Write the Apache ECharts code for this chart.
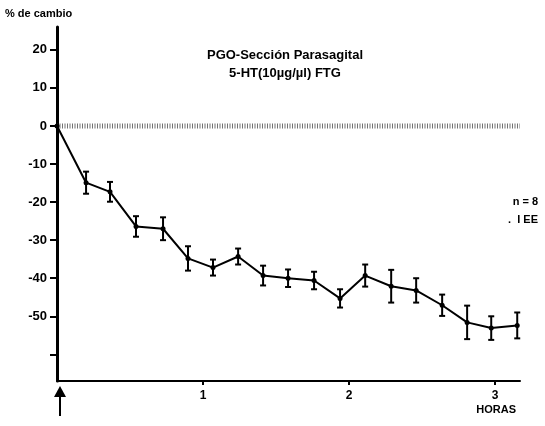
<!DOCTYPE html>
<html>
<head>
<meta charset="utf-8">
<script src="https://cdn.jsdelivr.net/npm/echarts@6/dist/echarts.min.js"></script>
<style>
  html, body { margin: 0; padding: 0; background: #fff; }
  #chart { width: 545px; height: 426px; }
</style>
</head>
<body>
<div id="chart"></div>
<script>
// time (hours) and % change
const hours = [0, 0.199, 0.363, 0.541, 0.726, 0.897, 1.068, 1.240, 1.411, 1.582, 1.760, 1.938, 2.110, 2.288, 2.459, 2.637, 2.808, 2.973, 3.151];
const change = [0, -14.9, -17.3, -26.4, -27.0, -34.8, -37.2, -34.3, -39.3, -40.0, -40.6, -45.3, -39.3, -42.1, -43.2, -47.1, -51.6, -53.1, -52.4];
// standard error (half bar), none at time 0
const sem = [0, 2.9, 2.6, 2.7, 3.0, 3.2, 2.1, 2.1, 2.6, 2.3, 2.3, 2.4, 2.9, 4.3, 3.2, 2.8, 4.4, 3.1, 3.4];
const yTicks = [20, 10, 0, -10, -20, -30, -40, -50, -60];
const yLabels = [20, 10, 0, -10, -20, -30, -40, -50];
const xTicks = [1, 2, 3];
const zeroLine = [[0, 0], [3.17, 0]];

const font = '"Liberation Sans", Arial, sans-serif';
const chart = echarts.init(document.getElementById('chart'));

const points = hours.map((h, i) => [h, change[i]]);
const bars = hours.map((h, i) => [h, change[i] - sem[i], change[i] + sem[i]]).filter((d, i) => sem[i] > 0);

chart.setOption({
  animation: false,
  backgroundColor: '#fff',
  grid: { left: 57, right: 25, top: 27, bottom: 45 },
  xAxis: {
    type: 'value', min: 0, max: 3.17,
    axisLine: { onZero: false, lineStyle: { color: '#000', width: 2 } },
    axisTick: { customValues: xTicks, length: 4, lineStyle: { color: '#000', width: 2 } },
    axisLabel: { customValues: xTicks, margin: 9, color: '#000', fontWeight: 'bold', fontSize: 12, fontFamily: font },
    splitLine: { show: false }
  },
  yAxis: {
    type: 'value', min: -67, max: 26,
    axisLine: { show: true, lineStyle: { color: '#000', width: 3 } },
    axisTick: { show: true, customValues: yTicks, length: 7, lineStyle: { color: '#000', width: 2 } },
    axisLabel: { customValues: yLabels, margin: 10, color: '#000', fontWeight: 'bold', fontSize: 13, fontFamily: font },
    splitLine: { show: false }
  },
  graphic: [
    { type: 'text', left: 5, top: 8, style: { text: '% de cambio', font: 'bold 11px ' + font, fill: '#000' } },
    { type: 'text', x: 285, y: 55, style: { text: 'PGO-Sección Parasagital', font: 'bold 13px ' + font, fill: '#000', align: 'center', verticalAlign: 'middle' } },
    { type: 'text', x: 285, y: 73, style: { text: '5-HT(10µg/µl) FTG', font: 'bold 13px ' + font, fill: '#000', align: 'center', verticalAlign: 'middle' } },
    { type: 'text', x: 538, y: 202, style: { text: 'n = 8', font: 'bold 11px ' + font, fill: '#000', align: 'right', verticalAlign: 'middle' } },
    { type: 'text', x: 538, y: 220, style: { text: '.  I EE', font: 'bold 11px ' + font, fill: '#000', align: 'right', verticalAlign: 'middle' } },
    { type: 'text', x: 516, y: 410, style: { text: 'HORAS', font: 'bold 11px ' + font, fill: '#000', align: 'right', verticalAlign: 'middle' } },
    { type: 'line', shape: { x1: 60, y1: 392, x2: 60, y2: 416 }, style: { stroke: '#000', lineWidth: 2 } },
    { type: 'polygon', shape: { points: [[60, 386], [54, 397], [66, 397]] }, style: { fill: '#000' } }
  ],
  series: [
    {
      type: 'line', data: zeroLine, symbol: 'none', silent: true,
      lineStyle: { color: '#444', width: 5, type: [1, 1.5], opacity: 0.75 }
    },
    {
      type: 'line', data: points, symbol: 'circle', symbolSize: 5,
      itemStyle: { color: '#000' },
      lineStyle: { color: '#000', width: 2 }
    },
    {
      type: 'custom', data: bars,
      renderItem: (params, api) => {
        const lo = api.coord([api.value(0), api.value(1)]);
        const hi = api.coord([api.value(0), api.value(2)]);
        const w = 3;
        const st = { stroke: '#000', lineWidth: 2 };
        return {
          type: 'group', children: [
            { type: 'line', shape: { x1: lo[0], y1: lo[1], x2: hi[0], y2: hi[1] }, style: st },
            { type: 'line', shape: { x1: lo[0] - w, y1: lo[1], x2: lo[0] + w, y2: lo[1] }, style: st },
            { type: 'line', shape: { x1: hi[0] - w, y1: hi[1], x2: hi[0] + w, y2: hi[1] }, style: st }
          ]
        };
      }
    }
  ]
});
</script>
</body>
</html>
